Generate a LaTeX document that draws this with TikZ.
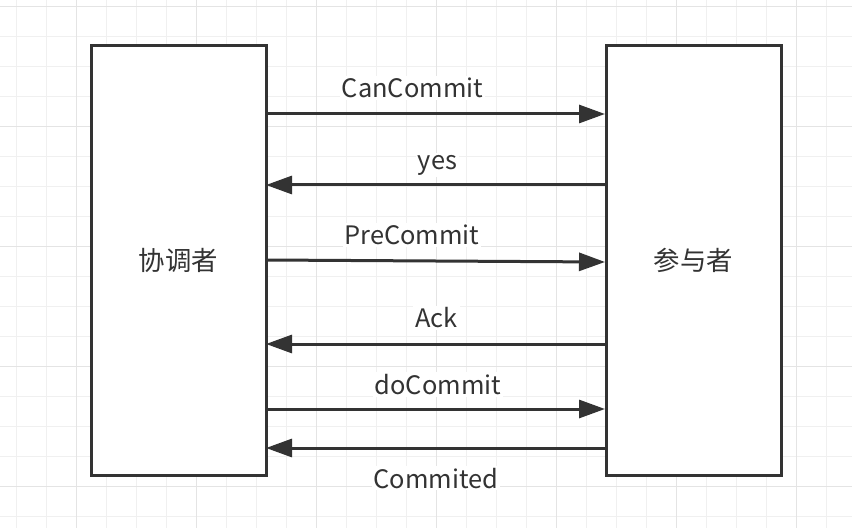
\documentclass[tikz,border=0pt]{standalone}
\usepackage{fontspec}
\setmainfont{Noto Sans CJK SC}
\usetikzlibrary{arrows.meta}

\definecolor{ink}{HTML}{333333}
\definecolor{gridminor}{HTML}{F0F0F0}
\definecolor{gridmajor}{HTML}{E4E4E4}

\begin{document}
\begin{tikzpicture}[x=1bp, y=-1bp,
    party/.style={draw=ink, line width=3bp, fill=white, inner sep=0pt, text=ink,
                  minimum width=175bp, minimum height=430bp, font=\fontsize{26.5}{30}\selectfont},
    msg/.style={draw=ink, line width=3bp, -{Triangle[length=26bp, width=18bp]}},
    lbl/.style={fill=white, text=ink, inner sep=2pt, anchor=base, font=\fontsize{25.5}{30}\selectfont}]
        \useasboundingbox (0,0) rectangle (852,528);
        \fill[white] (0,0) rectangle (852,528);
        % background grid
        \foreach \gx in {16.7,46.7,...,852}
            \draw[gridminor, line width=1.5bp] (\gx,0) -- (\gx,528);
        \foreach \gy in {6.7,36.7,...,528}
            \draw[gridminor, line width=1.5bp] (0,\gy) -- (852,\gy);
        \foreach \gx in {76.7,196.7,...,852}
            \draw[gridmajor, line width=1.5bp] (\gx,0) -- (\gx,528);
        \foreach \gy in {6.7,126.7,...,528}
            \draw[gridmajor, line width=1.5bp] (0,\gy) -- (852,\gy);

        \node[party] (coord) at (178.5,260.5) {协调者};
        \node[party] (part) at (693.5,260.5) {参与者};

        % end points of the messages
        \coordinate (canA) at (266,114);  \coordinate (canB) at (605,114);
        \coordinate (yesA) at (605,185);  \coordinate (yesB) at (266,185);
        \coordinate (preA) at (266,260);  \coordinate (preB) at (605,262);
        \coordinate (ackA) at (605,344);  \coordinate (ackB) at (266,344);
        \coordinate (doA)  at (266,409);  \coordinate (doB)  at (605,409);
        \coordinate (comA) at (605,448);  \coordinate (comB) at (266,448);

        \draw[msg] (canA) -- (canB);
        \draw[msg] (yesA) -- (yesB);
        \draw[msg] (preA) -- (preB);
        \draw[msg] (ackA) -- (ackB);
        \draw[msg] (doA) -- (doB);
        \draw[msg] (comA) -- (comB);

        \node[lbl] (canL) at (412.5,97.5) {CanCommit};
        \node[lbl] (yesL) at (437.5,169.5) {yes};
        \node[lbl] (preL) at (412,244.5) {PreCommit};
        \node[lbl] (ackL) at (436.5,328) {Ack};
        \node[lbl] (doL)  at (438,394.5) {doCommit};
        \node[lbl] (comL) at (436,488) {Commited};
    \end{tikzpicture}
\end{document}
